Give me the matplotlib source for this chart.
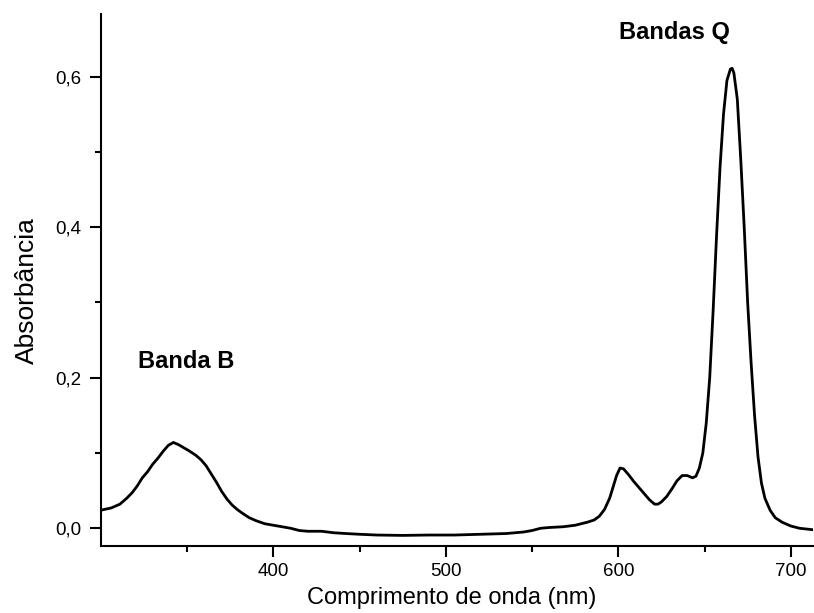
import matplotlib
matplotlib.use("Agg")
import matplotlib.pyplot as plt

plt.rcParams['font.family'] = ['Liberation Sans', 'DejaVu Sans']

wavelength = [300, 306, 311, 315, 318, 321, 324, 327, 330, 333, 336, 339, 342, 345, 348,
              351, 355, 358, 361, 364, 367, 370, 373, 376, 379, 382, 386, 390, 395, 400,
              405, 410, 415, 420, 428, 435, 442, 450, 460, 475, 490, 505, 520, 535, 545,
              550, 555, 560, 568, 575, 582, 586, 589, 592, 595, 597, 599, 601, 603, 606,
              609, 612, 615, 618, 621, 623, 625, 628, 631, 634, 637, 640, 643, 645, 647,
              649, 651, 653, 655, 657, 659, 661, 663, 665, 666, 667, 669, 671, 673, 675,
              677, 679, 681, 683, 685, 688, 691, 695, 700, 705, 713]
absorbance = [0.024, 0.027, 0.032, 0.040, 0.047, 0.056, 0.067, 0.075, 0.085, 0.093, 0.102,
              0.110, 0.114, 0.111, 0.107, 0.103, 0.097, 0.091, 0.083, 0.072, 0.061, 0.049,
              0.039, 0.031, 0.025, 0.020, 0.014, 0.010, 0.006, 0.004, 0.002, 0.000, -0.003,
              -0.004, -0.004, -0.006, -0.007, -0.008, -0.009, -0.0095, -0.009, -0.009,
              -0.008, -0.007, -0.005, -0.003, 0.000, 0.001, 0.002, 0.004, 0.008, 0.011,
              0.016, 0.025, 0.040, 0.055, 0.070, 0.080, 0.079, 0.071, 0.062, 0.054, 0.046,
              0.038, 0.032, 0.032, 0.035, 0.042, 0.052, 0.063, 0.070, 0.070, 0.067, 0.069,
              0.080, 0.100, 0.140, 0.200, 0.290, 0.390, 0.480, 0.550, 0.595, 0.610, 0.611,
              0.605, 0.570, 0.490, 0.400, 0.300, 0.220, 0.150, 0.095, 0.060, 0.040, 0.024,
              0.014, 0.008, 0.003, 0.000, -0.002]

x_ticks = [400, 500, 600, 700]
x_minor = [350, 450, 550, 650]
y_ticks = [0.0, 0.2, 0.4, 0.6]
y_tick_labels = ['0,0', '0,2', '0,4', '0,6']
y_minor = [0.1, 0.3, 0.5]

fig = plt.figure(figsize=(8.14, 6.13), dpi=100)
ax = fig.add_axes([0.124, 0.110, 0.875, 0.867])
ax.plot(wavelength, absorbance, color='black', lw=2.0, solid_joinstyle='round')

ax.set_xlim(300, 713)
ax.set_ylim(-0.023, 0.683)
ax.spines['top'].set_visible(False)
ax.spines['right'].set_visible(False)
for s in ('left', 'bottom'):
    ax.spines[s].set_linewidth(1.5)

ax.set_xticks(x_ticks)
ax.set_xticks(x_minor, minor=True)
ax.set_yticks(y_ticks)
ax.set_yticklabels(y_tick_labels)
ax.set_yticks(y_minor, minor=True)
ax.tick_params(which='major', direction='out', length=8, width=1.5, labelsize=13.5)
ax.tick_params(which='minor', direction='out', length=4.3, width=1.5)
ax.tick_params(axis='x', which='major', pad=4.2)
ax.tick_params(axis='y', which='major', pad=6)

ax.set_xlabel('Comprimento de onda (nm)', fontsize=17)
ax.set_ylabel('Absorbância', fontsize=19)
ax.xaxis.set_label_coords(0.4926, -0.078)
ax.yaxis.set_label_coords(-0.0871, 0.4807)

ax.text(321.5, 0.213, 'Banda B', fontsize=17, fontweight='bold', va='baseline', ha='left')
ax.text(600.6, 0.650, 'Bandas Q', fontsize=17, fontweight='bold', va='baseline', ha='left')

fig.savefig('out.png', dpi=100)
